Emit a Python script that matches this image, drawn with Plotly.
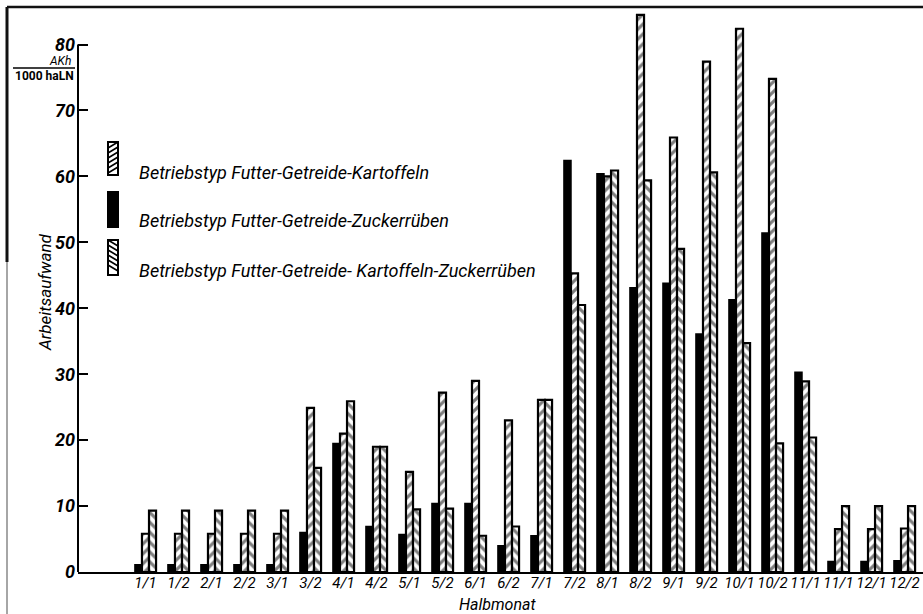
import plotly.graph_objects as go

# Half-month periods (as printed on the axis)
halbmonat = ["1/1", "1/2", "2/1", "2/2", "3/1", "3/2", "4/1", "4/2", "5/1", "5/2",
             "6/1", "6/2", "7/1", "7/2", "8/1", "8/2", "9/1", "9/2", "10/1", "10/2",
             "11/1", "11/1", "12/1", "12/2"]

# Labour input, AKh per 1000 ha LN
futter_getreide_zuckerrueben = [1.1, 1.1, 1.1, 1.1, 1.1, 6.0, 19.5, 6.9, 5.7, 10.4,
                                10.4, 4.0, 5.5, 62.4, 60.4, 43.1, 43.8, 36.1, 41.3, 51.4,
                                30.3, 1.6, 1.6, 1.7]
futter_getreide_kartoffeln = [5.8, 5.8, 5.8, 5.8, 5.8, 24.9, 21.0, 19.0, 15.2, 27.2,
                              29.0, 23.0, 26.1, 45.3, 60.0, 84.5, 65.9, 77.4, 82.4, 74.8,
                              28.9, 6.5, 6.5, 6.6]
futter_getreide_kartoffeln_zuckerrueben = [9.3, 9.3, 9.3, 9.3, 9.3, 15.8, 25.9, 19.0, 9.5, 9.6,
                                           5.5, 6.9, 26.1, 40.5, 60.9, 59.4, 49.0, 60.6, 34.7, 19.5,
                                           20.4, 10.0, 10.0, 10.0]

y_ticks = [0, 10, 20, 30, 40, 50, 60, 70, 80]

legend_names = [
    "Betriebstyp Futter-Getreide-Kartoffeln",
    "Betriebstyp Futter-Getreide-Zuckerrüben",
    "Betriebstyp Futter-Getreide- Kartoffeln-Zuckerrüben",
]

W, H = 923, 614
ML, MR, MT, MB = 78, 0, 5, 42
PW, PH = W - ML - MR, H - MT - MB

FONT = "Roboto, Liberation Sans Narrow, DejaVu Sans Condensed, sans-serif"


def px_x(px):
    return (px - ML) / PW


def px_y(py):
    return (H - MB - py) / PH


xpos = list(range(len(halbmonat)))

fig = go.Figure()
fig.add_trace(go.Bar(
    x=xpos, y=futter_getreide_zuckerrueben, name=legend_names[1],
    marker=dict(color="black", line=dict(color="black", width=1.5)),
    showlegend=False,
))
fig.add_trace(go.Bar(
    x=xpos, y=futter_getreide_kartoffeln, name=legend_names[0],
    marker=dict(color="white", line=dict(color="black", width=2.2),
                pattern=dict(shape="/", fgcolor="black", bgcolor="white",
                             size=7, solidity=0.45)),
    showlegend=False,
))
fig.add_trace(go.Bar(
    x=xpos, y=futter_getreide_kartoffeln_zuckerrueben, name=legend_names[2],
    marker=dict(color="white", line=dict(color="black", width=2.2),
                pattern=dict(shape="\\", fgcolor="black", bgcolor="white",
                             size=7, solidity=0.45)),
    showlegend=False,
))

shapes = []
annotations = []

# y axis line, only up to the last tick
shapes.append(dict(type="line", xref="paper", yref="y", x0=0, x1=0, y0=0, y1=80,
                   line=dict(color="black", width=2)))

# page frame lines
shapes.append(dict(type="line", xref="paper", yref="paper",
                   x0=px_x(7), x1=px_x(923), y0=px_y(7), y1=px_y(7),
                   line=dict(color="#111", width=2.5)))
shapes.append(dict(type="line", xref="paper", yref="paper",
                   x0=px_x(7), x1=px_x(7), y0=px_y(7), y1=px_y(262),
                   line=dict(color="#111", width=3)))
shapes.append(dict(type="line", xref="paper", yref="paper",
                   x0=px_x(7), x1=px_x(7), y0=px_y(262), y1=px_y(614),
                   line=dict(color="#888", width=1.5)))

# legend: tall hatched swatches with labels
legend_rows = [(142, 175, "/", legend_names[0], 172),
               (192, 227, "solid", legend_names[1], 220),
               (240, 275, "\\", legend_names[2], 270)]
sx0, sx1 = 108, 118
for top, bot, kind, label, ty in legend_rows:
    fill = "black" if kind == "solid" else "white"
    shapes.append(dict(type="rect", xref="paper", yref="paper",
                       x0=px_x(sx0), x1=px_x(sx1), y0=px_y(bot), y1=px_y(top),
                       fillcolor=fill, line=dict(color="black", width=2)))
    if kind != "solid":
        path = ""
        yb = top + 6
        while yb <= bot:
            if kind == "/":
                path += f"M{px_x(sx0)},{px_y(yb)} L{px_x(sx1)},{px_y(yb - 6)} "
            else:
                path += f"M{px_x(sx0)},{px_y(yb - 6)} L{px_x(sx1)},{px_y(yb)} "
            yb += 5
        shapes.append(dict(type="path", xref="paper", yref="paper", path=path,
                           line=dict(color="black", width=1.6)))
    annotations.append(dict(xref="paper", yref="paper", x=px_x(137), y=px_y(ty),
                            text=label, showarrow=False, xanchor="left", yanchor="middle",
                            font=dict(family=FONT, size=18, color="black", style="italic")))

# y axis title
annotations.append(dict(xref="paper", yref="paper", x=px_x(45), y=px_y(292),
                        text="Arbeitsaufwand", showarrow=False, textangle=-90,
                        xanchor="center", yanchor="middle",
                        font=dict(family=FONT, size=17, color="black", style="italic")))
# unit as a fraction
annotations.append(dict(xref="paper", yref="paper", x=px_x(73), y=px_y(61),
                        text="AKh", showarrow=False, xanchor="right", yanchor="middle",
                        font=dict(family=FONT, size=12, color="black", style="italic")))
shapes.append(dict(type="line", xref="paper", yref="paper",
                   x0=px_x(13), x1=px_x(75), y0=px_y(68), y1=px_y(68),
                   line=dict(color="black", width=1.5)))
annotations.append(dict(xref="paper", yref="paper", x=px_x(44), y=px_y(76),
                        text="<b>1000 haLN</b>", showarrow=False, xanchor="center",
                        yanchor="middle",
                        font=dict(family=FONT, size=12, color="black")))
# x axis title
annotations.append(dict(xref="paper", yref="paper", x=px_x(497), y=px_y(604),
                        text="Halbmonat", showarrow=False, xanchor="center", yanchor="middle",
                        font=dict(family=FONT, size=16, color="black", style="italic")))

fig.update_layout(
    width=W, height=H,
    margin=dict(l=ML, r=MR, t=MT, b=MB, pad=0),
    paper_bgcolor="white", plot_bgcolor="white",
    barmode="group", bargap=0.36, bargroupgap=0.0,
    showlegend=False,
    shapes=shapes, annotations=annotations,
    font=dict(family=FONT, color="black"),
    xaxis=dict(
        range=[-2.045, 23.56], tickmode="array", tickvals=xpos, ticktext=halbmonat,
        showline=True, linecolor="black", linewidth=2, ticks="", showgrid=False,
        zeroline=False, tickangle=0, ticklabelstandoff=-4,
        tickfont=dict(family=FONT, size=15, color="black", style="italic"),
    ),
    yaxis=dict(
        range=[0, 86], tickmode="array", tickvals=y_ticks,
        ticks="inside", ticklen=10, tickwidth=1.5, tickcolor="black",
        showline=False, showgrid=False, zeroline=False,
        tickfont=dict(family=FONT, size=18, color="black", style="italic", weight="bold"),
        ticklabelstandoff=2,
    ),
)

fig.write_html("out.html")
